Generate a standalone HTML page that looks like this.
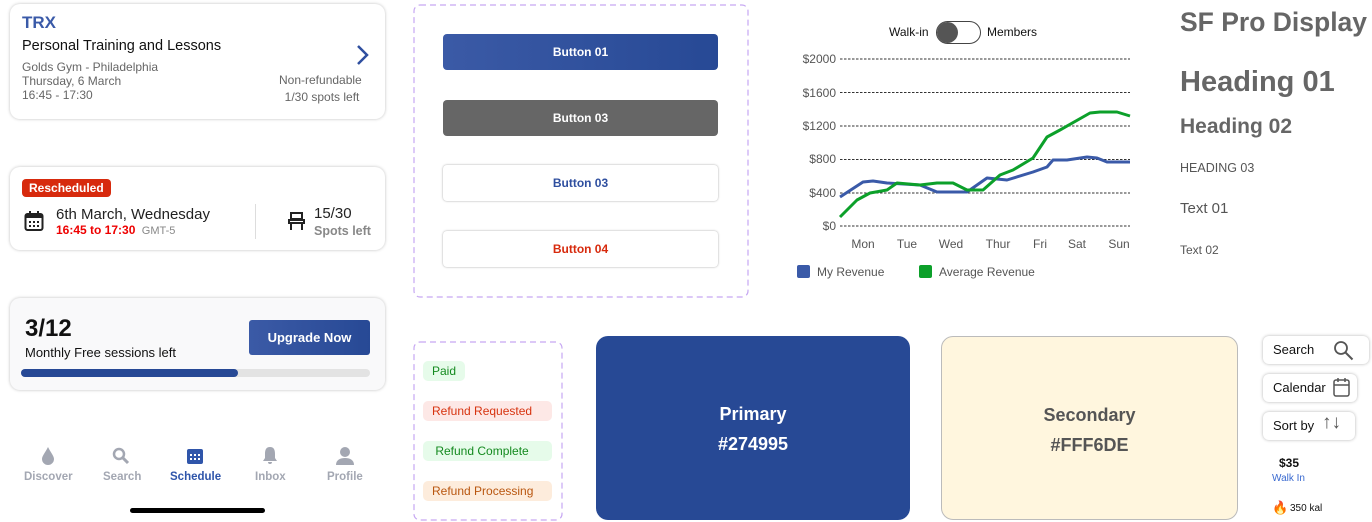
<!DOCTYPE html>
<html><head><meta charset="utf-8"><style>
*{box-sizing:border-box;margin:0;padding:0}
body{width:1372px;height:521px;background:#fff;font-family:"Liberation Sans",sans-serif;position:relative;overflow:hidden;color:#111}
.a{position:absolute}
.card{position:absolute;background:#fff;border-radius:10px;box-shadow:0 0 3px rgba(0,0,0,.25)}
.t{position:absolute;white-space:nowrap}
.btn{position:absolute;left:443px;width:275px;height:36px;border-radius:4px;font-size:12px;font-weight:bold;text-align:center;line-height:36px}
.pill{position:absolute;left:423px;height:20px;border-radius:5px;font-size:12px;line-height:20px;padding:0 9px}
.tb{position:absolute;background:#fff;border-radius:6px;box-shadow:0 0 3px rgba(0,0,0,.3);font-size:13px;padding-left:10px;line-height:28px;height:28px}
</style></head><body>

<div class="card" style="left:10px;top:4px;width:375px;height:115px"></div>
<div class="t" style="left:22px;top:13px;font-size:17px;font-weight:bold;color:#3a5aa8">TRX</div>
<div class="t" style="left:22px;top:38px;font-size:14.5px">Personal Training and Lessons</div>
<div class="t" style="left:22px;top:60px;font-size:12px;color:#666;line-height:14px">Golds Gym - Philadelphia<br>Thursday, 6 March<br>16:45 - 17:30</div>
<div class="t" style="left:279px;top:72px;font-size:12px;color:#666;line-height:17px;text-align:center">Non-refundable<br>&nbsp;1/30 spots left</div>
<svg class="a" style="left:355px;top:44px" width="16" height="22"><path d="M3 2 L12 11 L3 20" stroke="#2f4f9f" stroke-width="2.5" fill="none"/></svg>

<div class="card" style="left:10px;top:167px;width:375px;height:83px"></div>
<div class="t" style="left:22px;top:179px;background:#d72a0d;color:#fff;font-size:12px;font-weight:bold;padding:0 7px;border-radius:4px;line-height:18px">Rescheduled</div>
<svg class="a" style="left:24px;top:211px" width="20" height="21"><rect x="1.5" y="3" width="17" height="16" rx="2" fill="none" stroke="#222" stroke-width="2"/><rect x="1.5" y="3" width="17" height="4" fill="#222"/><rect x="5" y="0" width="2" height="5" fill="#222"/><rect x="13" y="0" width="2" height="5" fill="#222"/><g fill="#222"><rect x="5" y="10" width="2" height="2"/><rect x="9" y="10" width="2" height="2"/><rect x="13" y="10" width="2" height="2"/><rect x="5" y="14" width="2" height="2"/><rect x="9" y="14" width="2" height="2"/><rect x="13" y="14" width="2" height="2"/></g></svg>
<div class="t" style="left:56px;top:206px;font-size:15px;color:#222">6th March, Wednesday</div>
<div class="t" style="left:56px;top:223px;font-size:12px;color:#e00;font-weight:bold">16:45 to 17:30 <span style="color:#888;font-weight:normal;font-size:11px">&nbsp;GMT-5</span></div>
<div class="a" style="left:255px;top:204px;width:1px;height:35px;background:#ddd"></div>
<svg class="a" style="left:288px;top:211px" width="17" height="20"><path d="M3 2h11v6H3z M1 9h15v3H1z M3 12v7 M14 12v7" stroke="#222" stroke-width="2" fill="none"/></svg>
<div class="t" style="left:314px;top:205px;font-size:15px;color:#222">15/30</div>
<div class="t" style="left:314px;top:224px;font-size:12.5px;color:#888;font-weight:bold">Spots left</div>

<div class="card" style="left:10px;top:298px;width:375px;height:92px;background:#f9f9fa"></div>
<div class="t" style="left:25px;top:315px;font-size:24px;font-weight:bold">3/12</div>
<div class="t" style="left:25px;top:345px;font-size:13px">Monthly Free sessions left</div>
<div class="a" style="left:249px;top:320px;width:121px;height:35px;border-radius:3px;background:linear-gradient(90deg,#3b5aa6,#274995);color:#fff;font-size:13px;font-weight:bold;text-align:center;line-height:35px">Upgrade Now</div>
<div class="a" style="left:21px;top:369px;width:349px;height:8px;border-radius:4px;background:#e3e3e3"></div>
<div class="a" style="left:21px;top:369px;width:217px;height:8px;border-radius:4px;background:#274995"></div>

<svg class="a" style="left:40px;top:446px" width="16" height="20"><path d="M8 1 C5 7 2 10 2 13 A6 6 0 0 0 14 13 C14 10 11 7 8 1Z" fill="#a3a7b2"/></svg>
<svg class="a" style="left:112px;top:447px" width="18" height="18"><circle cx="7" cy="7" r="5" stroke="#a3a7b2" stroke-width="2.5" fill="none"/><path d="M11 11l5 5" stroke="#a3a7b2" stroke-width="3"/></svg>
<svg class="a" style="left:187px;top:447px" width="16" height="17"><rect x="0" y="2" width="16" height="15" rx="2" fill="#2f55aa"/><g fill="#fff"><rect x="3" y="7" width="2" height="2"/><rect x="7" y="7" width="2" height="2"/><rect x="11" y="7" width="2" height="2"/><rect x="3" y="11" width="2" height="2"/><rect x="7" y="11" width="2" height="2"/><rect x="11" y="11" width="2" height="2"/></g></svg>
<svg class="a" style="left:261px;top:446px" width="18" height="19"><path d="M9 1C5 1 4 4 4 8v4l-2 3h14l-2-3V8c0-4-1-7-5-7z M7 16a2 2 0 0 0 4 0z" fill="#a3a7b2"/></svg>
<svg class="a" style="left:335px;top:446px" width="20" height="19"><circle cx="10" cy="6" r="5" fill="#a3a7b2"/><path d="M1 19c0-5 4-7 9-7s9 2 9 7z" fill="#a3a7b2"/></svg>
<div class="t" style="left:24px;top:471px;font-size:11.5px;font-weight:bold;color:#a3a7b2">Discover</div>
<div class="t" style="left:103px;top:471px;font-size:11.5px;font-weight:bold;color:#a3a7b2">Search</div>
<div class="t" style="left:170px;top:471px;font-size:11.5px;font-weight:bold;color:#2f55aa">Schedule</div>
<div class="t" style="left:255px;top:471px;font-size:11.5px;font-weight:bold;color:#a3a7b2">Inbox</div>
<div class="t" style="left:327px;top:471px;font-size:11.5px;font-weight:bold;color:#a3a7b2">Profile</div>
<div class="a" style="left:130px;top:508px;width:135px;height:5px;border-radius:3px;background:#000"></div>

<svg class="a" style="left:413px;top:4px" width="336" height="294"><rect x="1" y="1" width="334" height="292" rx="6" fill="none" stroke="#c6a7f2" stroke-width="1.2" stroke-dasharray="6,4"/></svg>
<div class="btn" style="top:34px;background:linear-gradient(90deg,#3b5aa6,#274995);color:#fff">Button 01</div>
<div class="btn" style="top:100px;background:#666;color:#fff">Button 03</div>
<div class="btn" style="top:165px;background:#fff;color:#2f4f9f;box-shadow:0 0 2px rgba(0,0,0,.35)">Button 03</div>
<div class="btn" style="top:231px;background:#fff;color:#d72a0d;box-shadow:0 0 2px rgba(0,0,0,.35)">Button 04</div>

<svg class="a" style="left:413px;top:341px" width="150" height="181"><rect x="1" y="1" width="148" height="178" rx="6" fill="none" stroke="#c6a7f2" stroke-width="1.2" stroke-dasharray="6,4"/></svg>
<div class="pill" style="top:361px;background:#e6fbea;color:#148a1f">Paid</div>
<div class="pill" style="top:401px;background:#fde8e6;color:#d7330f;width:129px">Refund Requested</div>
<div class="pill" style="top:441px;background:#e6fbea;color:#148a1f;width:129px">&nbsp;Refund Complete</div>
<div class="pill" style="top:481px;background:#fdecdc;color:#b9560f;width:129px">Refund Processing</div>

<div class="t" style="left:889px;top:25px;font-size:12px">Walk-in</div>
<div class="a" style="left:936px;top:21px;width:45px;height:23px;border:1px solid #444;border-radius:12px"></div>
<div class="a" style="left:937px;top:22px;width:21px;height:21px;border-radius:50%;background:#555"></div>
<div class="t" style="left:987px;top:25px;font-size:12px">Members</div>
<svg class="a" style="left:780px;top:45px" width="370" height="240">
<g font-family="Liberation Sans" font-size="12" fill="#555" text-anchor="end">
<text x="56" y="18">$2000</text><text x="56" y="52">$1600</text><text x="56" y="85">$1200</text><text x="56" y="118">$800</text><text x="56" y="152">$400</text><text x="56" y="185">$0</text></g>
<g stroke="#333" stroke-dasharray="2.5,1.5" stroke-width="1"><line x1="60" y1="14" x2="350" y2="14"/><line x1="60" y1="47.5" x2="350" y2="47.5"/><line x1="60" y1="81" x2="350" y2="81"/><line x1="60" y1="114.5" x2="350" y2="114.5"/><line x1="60" y1="148" x2="350" y2="148"/><line x1="60" y1="181" x2="350" y2="181"/></g>
<g font-family="Liberation Sans" font-size="12" fill="#555" text-anchor="middle"><text x="83" y="203">Mon</text><text x="127" y="203">Tue</text><text x="171" y="203">Wed</text><text x="218" y="203">Thur</text><text x="260" y="203">Fri</text><text x="297" y="203">Sat</text><text x="339" y="203">Sun</text></g>
<polyline fill="none" stroke="#3a5aa8" stroke-width="3" stroke-linejoin="round" points="60,152 83,137 93,136 107,138 140,140 157,147 187,147 207,133 227,135 253,127 267,122 273,115 287,115 307,112 317,113 327,117 350,117"/>
<polyline fill="none" stroke="#0ca02a" stroke-width="3" stroke-linejoin="round" points="60,172 77,155 90,148 107,145 117,138 140,140 157,138 173,138 187,145 203,145 220,130 233,125 253,113 267,92 280,85 310,68 320,67 337,67 350,71"/>
<rect x="17" y="220" width="13" height="13" rx="2" fill="#3a5aa8"/><text x="37" y="231" font-family="Liberation Sans" font-size="12" fill="#555">My Revenue</text>
<rect x="139" y="220" width="13" height="13" rx="2" fill="#0ca02a"/><text x="159" y="231" font-family="Liberation Sans" font-size="12" fill="#555">Average Revenue</text>
</svg>

<div class="a" style="left:596px;top:336px;width:314px;height:184px;border-radius:12px;background:#274995;color:#fff;text-align:center;font-size:18px;line-height:30px;padding-top:63px;font-weight:bold">Primary<br>#274995</div>
<div class="a" style="left:941px;top:336px;width:297px;height:184px;border-radius:12px;background:#fff6de;border:1px solid #bbb;color:#555;text-align:center;font-size:18px;line-height:30px;padding-top:63px;font-weight:bold">Secondary<br>#FFF6DE</div>

<div class="t" style="left:1180px;top:7px;font-size:26.5px;font-weight:bold;color:#666">SF Pro Display</div>
<div class="t" style="left:1180px;top:66px;font-size:29px;font-weight:bold;color:#666">Heading 01</div>
<div class="t" style="left:1180px;top:115px;font-size:21px;font-weight:bold;color:#666">Heading 02</div>
<div class="t" style="left:1180px;top:161px;font-size:12.5px;color:#555">HEADING 03</div>
<div class="t" style="left:1180px;top:200px;font-size:15px;color:#555">Text 01</div>
<div class="t" style="left:1180px;top:243px;font-size:12px;color:#555">Text 02</div>

<div class="tb" style="left:1263px;top:336px;width:106px">Search</div>
<svg class="a" style="left:1333px;top:340px" width="22" height="22"><circle cx="8" cy="8" r="6" stroke="#555" stroke-width="1.8" fill="none"/><path d="M12.5 12.5l7 7" stroke="#555" stroke-width="2"/></svg>
<div class="tb" style="left:1263px;top:374px;width:94px">Calendar</div>
<svg class="a" style="left:1333px;top:377px" width="17" height="20"><rect x="1" y="3" width="15" height="16" rx="2" stroke="#555" stroke-width="1.5" fill="none"/><path d="M1 8h15 M5 1v4 M12 1v4" stroke="#555" stroke-width="1.5"/></svg>
<div class="tb" style="left:1263px;top:412px;width:92px">Sort by</div>
<div class="t" style="left:1322px;top:412px;font-size:19px;color:#555">↑↓</div>
<div class="t" style="left:1279px;top:456px;font-size:12px;font-weight:bold">$35</div>
<div class="t" style="left:1272px;top:473px;font-size:10px;color:#3a6ad0">Walk In</div>
<div class="t" style="left:1272px;top:500px;font-size:13px">🔥</div>
<div class="t" style="left:1290px;top:503px;font-size:10px">350 kal</div>
</body></html>
